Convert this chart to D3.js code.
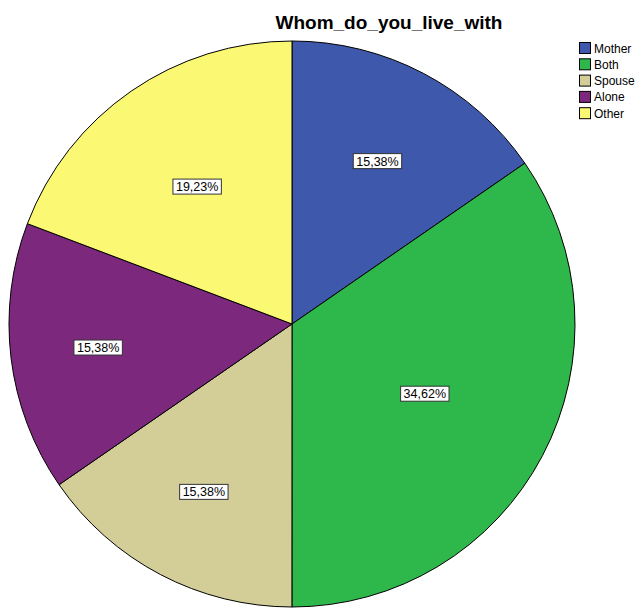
<!DOCTYPE html>
<html><head><meta charset="utf-8">
<script src="https://cdn.jsdelivr.net/npm/d3@7"></script>
<style>body{margin:0;background:#fff}svg{display:block}text{font-family:"Liberation Sans",Arial,sans-serif}</style>
</head><body>
<svg id="chart" width="640" height="608"></svg>
<script>
const categories = ["Mother","Both","Spouse","Alone","Other"];
const percents = [15.38, 34.62, 15.38, 15.38, 19.23];
const labels = ["15,38%","34,62%","15,38%","15,38%","19,23%"];
const colors = ["#3E58AC","#2EB84B","#D3CE97","#7C287D","#FBF873"];
const title = "Whom_do_you_live_with";
// label distance from centre as fraction of radius (layout only)
const labelRadius = [0.65, 0.53, 0.67, 0.69, 0.59];

const svg = d3.select("#chart");
const cx = 292, cy = 324, r = 283;
const g = svg.append("g").attr("transform", `translate(${cx},${cy})`);
const pie = d3.pie().sort(null).value(d => d)(percents);
const arc = d3.arc().innerRadius(0).outerRadius(r);
g.selectAll("path").data(pie).join("path")
  .attr("d", arc).attr("fill", (d,i) => colors[i])
  .attr("stroke", "#000").attr("stroke-width", 1);

pie.forEach((d, i) => {
  const a = (d.startAngle + d.endAngle) / 2;
  const lr = r * labelRadius[i];
  const x = Math.sin(a) * lr, y = -Math.cos(a) * lr;
  const lg = g.append("g").attr("transform", `translate(${x},${y})`);
  const t = lg.append("text").attr("text-anchor","middle").attr("dy","0.36em")
    .attr("font-size", 12.5).attr("fill","#000").text(labels[i]);
  const bb = t.node().getBBox();
  lg.insert("rect","text").attr("x", bb.x - 3).attr("y", -7.5)
    .attr("width", bb.width + 6).attr("height", 15)
    .attr("fill","#fff").attr("stroke","#333").attr("stroke-width",1);
});

svg.append("text").attr("x", 389).attr("y", 29).attr("text-anchor","middle")
  .attr("font-size", 19).attr("font-weight","bold").attr("fill","#000").text(title);

const leg = svg.append("g").attr("transform","translate(579,42)");
categories.forEach((c, i) => {
  const row = leg.append("g").attr("transform", `translate(0,${i*16.3})`);
  row.append("rect").attr("x",0.5).attr("y",0.5).attr("width",11).attr("height",11)
    .attr("fill", colors[i]).attr("stroke","#000").attr("stroke-width",1);
  row.append("text").attr("x", 15).attr("y", 10.5).attr("font-size", 12).attr("fill","#000").text(c);
});
</script>
</body></html>
